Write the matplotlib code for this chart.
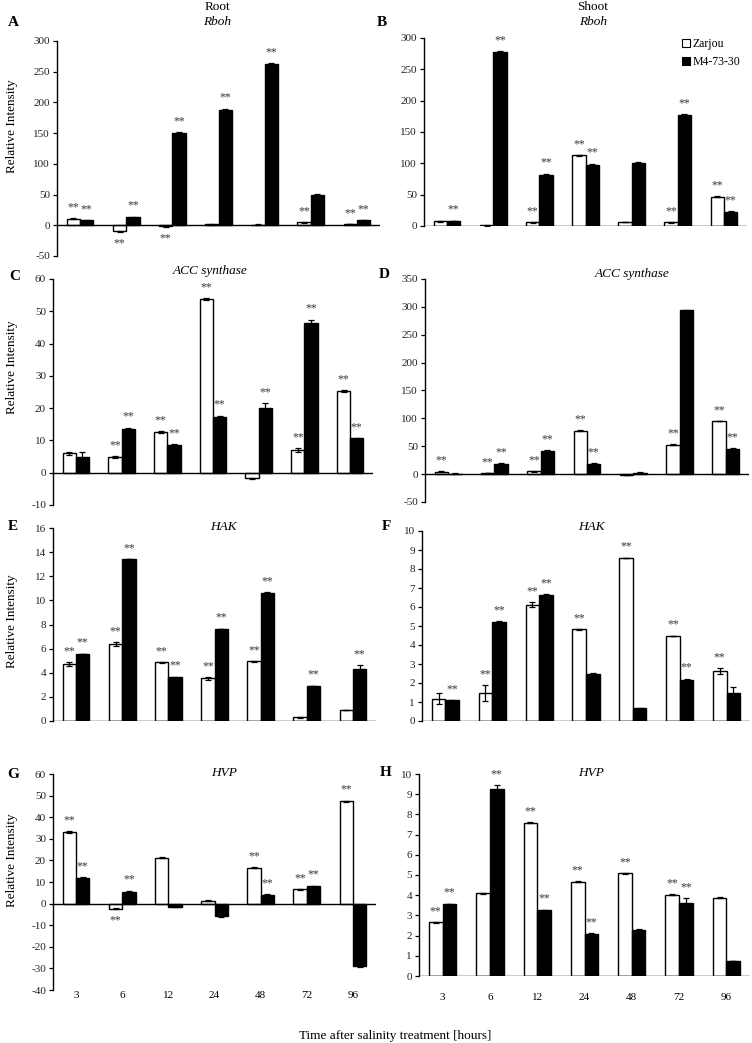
#!/usr/bin/env python3
"""
Relative expression of Rboh, ACC synthase, HAK and HVP in root and shoot
of Zarjou and M4-73-30 after salinity treatment.
"""

import numpy as np
import matplotlib.pyplot as plt
from matplotlib.patches import Patch

plt.rcParams['font.family'] = ['Liberation Serif', 'DejaVu Serif']
plt.rcParams['axes.unicode_minus'] = False

hours = ['3', '6', '12', '24', '48', '72', '96']
cultivars = ['Zarjou', 'M4-73-30']

# A - Root Rboh
root_rboh_zarjou = [11, -10, -1.6, 1.5, 1, 5, 2]
root_rboh_zarjou_err = [0.6, 0.8, 0.4, 0.4, 0.4, 0.6, 0.4]
root_rboh_m4 = [8, 13, 150, 188, 262, 50, 8]
root_rboh_m4_err = [0.6, 1, 1.5, 2, 1.5, 0.8, 0.8]
root_rboh_zarjou_sig = [1, 1, 1, 0, 0, 1, 1]
root_rboh_m4_sig = [1, 1, 1, 1, 1, 0, 1]

# B - Shoot Rboh
shoot_rboh_zarjou = [7.5, 1, 6, 113, 6.5, 6, 47]
shoot_rboh_zarjou_err = [0.5, 0.4, 0.5, 0.6, 0.5, 0.5, 0.8]
shoot_rboh_m4 = [8, 278, 82, 98, 100, 177, 23]
shoot_rboh_m4_err = [0.5, 1.5, 1.5, 1.5, 2.5, 1.5, 0.8]
shoot_rboh_zarjou_sig = [0, 0, 1, 1, 0, 1, 1]
shoot_rboh_m4_sig = [1, 1, 1, 1, 0, 1, 1]

# C - Root ACC synthase
root_acc_zarjou = [6, 4.8, 12.5, 53.8, -1.7, 7, 25.3]
root_acc_zarjou_err = [0.4, 0.3, 0.3, 0.3, 0.1, 0.5, 0.3]
root_acc_m4 = [4.8, 13.4, 8.7, 17.2, 20, 46.3, 10.6]
root_acc_m4_err = [1.6, 0.6, 0.1, 0.5, 1.5, 1.1, 0.2]
root_acc_zarjou_sig = [0, 1, 1, 1, 0, 1, 1]
root_acc_m4_sig = [0, 1, 1, 1, 1, 1, 1]

# D - Shoot ACC synthase
shoot_acc_zarjou = [4.5, 2, 5, 78, -1, 53, 95]
shoot_acc_zarjou_err = [0.5, 0.3, 0.3, 1, 0.3, 0.3, 0.3]
shoot_acc_m4 = [1, 19, 42, 19, 2.5, 294, 45]
shoot_acc_m4_err = [0.3, 0.8, 0.8, 0.8, 0.5, 1, 1]
shoot_acc_zarjou_sig = [1, 1, 1, 1, 0, 1, 1]
shoot_acc_m4_sig = [0, 1, 1, 1, 0, 0, 1]

# E - Root HAK
root_hak_zarjou = [4.75, 6.38, 4.85, 3.55, 4.96, 0.3, 0.92]
root_hak_zarjou_err = [0.15, 0.15, 0.02, 0.12, 0.03, 0.03, 0.02]
root_hak_m4 = [5.55, 13.42, 3.63, 7.63, 10.65, 2.9, 4.35]
root_hak_m4_err = [0.03, 0.02, 0.05, 0.03, 0.05, 0.03, 0.3]
root_hak_zarjou_sig = [1, 1, 1, 1, 1, 0, 0]
root_hak_m4_sig = [1, 1, 1, 1, 1, 1, 1]

# F - Shoot HAK
shoot_hak_zarjou = [1.18, 1.47, 6.12, 4.83, 8.58, 4.47, 2.65]
shoot_hak_zarjou_err = [0.3, 0.4, 0.12, 0.02, 0.02, 0.02, 0.15]
shoot_hak_m4 = [1.08, 5.21, 6.61, 2.49, 0.67, 2.18, 1.49]
shoot_hak_m4_err = [0.03, 0.03, 0.05, 0.02, 0.02, 0.05, 0.3]
shoot_hak_zarjou_sig = [0, 1, 1, 1, 1, 1, 1]
shoot_hak_m4_sig = [1, 1, 1, 0, 0, 1, 0]

# G - Root HVP
root_hvp_zarjou = [33.2, -2.3, 21.3, 1.4, 16.7, 6.6, 47.3]
root_hvp_zarjou_err = [0.3, 0.3, 0.1, 0.3, 0.1, 0.1, 0.4]
root_hvp_m4 = [12, 5.6, -1.5, -5.8, 3.9, 8, -29]
root_hvp_m4_err = [0.3, 0.4, 0.3, 0.3, 0.4, 0.3, 0.2]
root_hvp_zarjou_sig = [1, 1, 0, 0, 1, 1, 1]
root_hvp_m4_sig = [1, 1, 0, 0, 1, 1, 0]

# H - Shoot HVP
shoot_hvp_zarjou = [2.66, 4.1, 7.58, 4.67, 5.08, 4.03, 3.88]
shoot_hvp_zarjou_err = [0.02, 0.02, 0.02, 0.02, 0.02, 0.02, 0.02]
shoot_hvp_m4 = [3.56, 9.27, 3.26, 2.1, 2.28, 3.6, 0.74]
shoot_hvp_m4_err = [0.02, 0.18, 0.03, 0.03, 0.03, 0.25, 0.02]
shoot_hvp_zarjou_sig = [1, 0, 1, 1, 1, 1, 0]
shoot_hvp_m4_sig = [1, 1, 1, 1, 0, 1, 0]

W, H = 752, 1043


def px_box(left, top, right, bottom):
    """Pixel box -> figure fraction [l, b, w, h]."""
    return [left / W, 1 - bottom / H, (right - left) / W, (bottom - top) / H]


def draw_panel(ax, z, z_err, m, m_err, z_sig, m_sig, ylim, ystep, show_x):
    x = np.arange(len(hours))
    bw = 0.29
    ax.bar(x - bw / 2, z, bw, yerr=z_err, color='white', edgecolor='black',
           linewidth=1.0, error_kw=dict(ecolor='black', elinewidth=0.9, capsize=2, capthick=0.9))
    ax.bar(x + bw / 2, m, bw, yerr=m_err, color='black', edgecolor='black',
           linewidth=1.0, error_kw=dict(ecolor='black', elinewidth=0.9, capsize=2, capthick=0.9))

    # significance marks
    for vals, errs, sig, off in [(z, z_err, z_sig, -bw / 2), (m, m_err, m_sig, bw / 2)]:
        for i, (v, e, s) in enumerate(zip(vals, errs, sig)):
            if not s:
                continue
            if v >= 0:
                ax.annotate('**', (i + off, v + e), xytext=(0, 3.5), textcoords='offset points',
                            ha='center', va='bottom', fontsize=8.5, color='#3a3a3a')
            else:
                ax.annotate('**', (i + off, v - e), xytext=(0, -4), textcoords='offset points',
                            ha='center', va='top', fontsize=8.5, color='#3a3a3a')

    ax.set_xlim(-0.5, len(hours) - 0.5)
    ax.set_ylim(*ylim)
    ax.set_yticks(np.arange(ylim[0], ylim[1] + ystep / 2, ystep))
    ax.axhline(0, color='black', linewidth=1.0)
    for s in ['top', 'right', 'bottom']:
        ax.spines[s].set_visible(False)
    ax.spines['left'].set_linewidth(1.0)
    ax.tick_params(axis='y', direction='out', length=3, width=0.9, labelsize=8, pad=2)
    ax.set_xticks(x)
    if show_x:
        ax.set_xticklabels(hours)
    else:
        ax.set_xticklabels([])
    ax.tick_params(axis='x', length=0, labelsize=8)
    for lab in ax.get_yticklabels():
        lab.set_color('#222222')


def main():
    fig = plt.figure(figsize=(W / 100, H / 100), dpi=100)

    panels = [
        ('A', (57, 41, 380, 256), root_rboh_zarjou, root_rboh_zarjou_err, root_rboh_m4, root_rboh_m4_err,
         root_rboh_zarjou_sig, root_rboh_m4_sig, (-50, 300), 50, False),
        ('B', (424, 38, 747, 226), shoot_rboh_zarjou, shoot_rboh_zarjou_err, shoot_rboh_m4, shoot_rboh_m4_err,
         shoot_rboh_zarjou_sig, shoot_rboh_m4_sig, (0, 300), 50, False),
        ('C', (53, 279, 373, 505), root_acc_zarjou, root_acc_zarjou_err, root_acc_m4, root_acc_m4_err,
         root_acc_zarjou_sig, root_acc_m4_sig, (-10, 60), 10, False),
        ('D', (425, 279, 749, 502), shoot_acc_zarjou, shoot_acc_zarjou_err, shoot_acc_m4, shoot_acc_m4_err,
         shoot_acc_zarjou_sig, shoot_acc_m4_sig, (-50, 350), 50, False),
        ('E', (53, 528, 376, 721), root_hak_zarjou, root_hak_zarjou_err, root_hak_m4, root_hak_m4_err,
         root_hak_zarjou_sig, root_hak_m4_sig, (0, 16), 2, False),
        ('F', (422, 531, 750, 721), shoot_hak_zarjou, shoot_hak_zarjou_err, shoot_hak_m4, shoot_hak_m4_err,
         shoot_hak_zarjou_sig, shoot_hak_m4_sig, (0, 10), 1, False),
        ('G', (53, 774, 376, 990), root_hvp_zarjou, root_hvp_zarjou_err, root_hvp_m4, root_hvp_m4_err,
         root_hvp_zarjou_sig, root_hvp_m4_sig, (-40, 60), 10, True),
        ('H', (419, 774, 750, 976), shoot_hvp_zarjou, shoot_hvp_zarjou_err, shoot_hvp_m4, shoot_hvp_m4_err,
         shoot_hvp_zarjou_sig, shoot_hvp_m4_sig, (0, 10), 1, True),
    ]

    axes = {}
    for p in panels:
        ax = fig.add_axes(px_box(*p[1]))
        draw_panel(ax, *p[2:])
        axes[p[0]] = ax

    # x tick label positions (Excel puts them low)
    axes['G'].tick_params(axis='x', pad=1)
    axes['H'].tick_params(axis='x', pad=12)

    def ftext(x, y, s, **kw):
        fig.text(x / W, 1 - y / H, s, ha='center', va='center', **kw)

    # column headers and gene titles
    ftext(217, 7, 'Root', fontsize=9.5)
    ftext(217, 22, 'Rboh', fontsize=9.5, style='italic')
    ftext(593, 7, 'Shoot', fontsize=9.5)
    ftext(593, 22, 'Rboh', fontsize=9.5, style='italic')
    ftext(210, 271, 'ACC synthase', fontsize=9.5, style='italic')
    ftext(632, 274, 'ACC synthase', fontsize=9.5, style='italic')
    ftext(223, 527, 'HAK', fontsize=9.5, style='italic')
    ftext(591, 527, 'HAK', fontsize=9.5, style='italic')
    ftext(224, 773, 'HVP', fontsize=9.5, style='italic')
    ftext(591, 773, 'HVP', fontsize=9.5, style='italic')

    # panel letters
    for letter, (lx, ly) in zip('ABCDEFGH', [(13, 23), (382, 23), (15, 277), (384, 275),
                                              (13, 527), (386, 527), (13, 775), (386, 773)]):
        ftext(lx, ly, letter, fontsize=11, fontweight='bold')

    # y labels
    for yc in [126, 367, 621, 860]:
        ftext(12, yc, 'Relative Intensity', fontsize=9.5, rotation=90)

    ftext(395, 1036, 'Time after salinity treatment [hours]', fontsize=9.5)

    handles = [Patch(facecolor='white', edgecolor='black', linewidth=0.8, label=cultivars[0]),
               Patch(facecolor='black', edgecolor='black', linewidth=0.8, label=cultivars[1])]
    fig.legend(handles=handles, loc='upper left', bbox_to_anchor=(682 / W, 1 - 38 / H),
               frameon=False, fontsize=8.5, handlelength=0.7, handleheight=0.7,
               handletextpad=0.2, labelspacing=0.5, borderaxespad=0, borderpad=0)

    fig.savefig('out.png', dpi=100)
    plt.close(fig)


if __name__ == "__main__":
    main()
